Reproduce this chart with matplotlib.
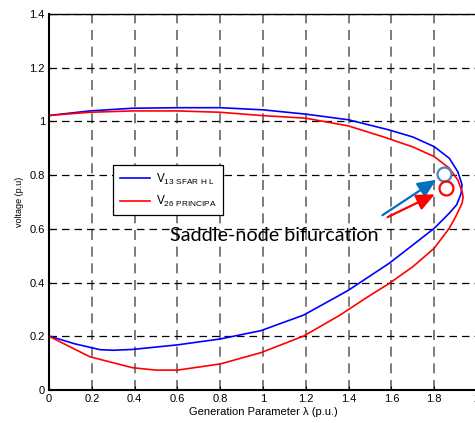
import matplotlib
matplotlib.use('Agg')
import matplotlib.pyplot as plt
from matplotlib.ticker import FormatStrFormatter
import numpy as np

plt.rcParams['font.family'] = ['Liberation Sans', 'DejaVu Sans']
plt.rcParams['mathtext.fontset'] = 'custom'
plt.rcParams['mathtext.rm'] = 'Liberation Sans'

# PV curve of bus 13 (generation parameter vs voltage), traced along the nose
lam_v13 = [0.0, 0.19, 0.39, 0.60, 0.80, 1.00, 1.20, 1.40, 1.59, 1.70, 1.80, 1.87, 1.91,
           1.93, 1.925, 1.905, 1.87, 1.80, 1.70, 1.59, 1.40, 1.36, 1.19, 0.99, 0.80,
           0.60, 0.39, 0.30, 0.24, 0.12, 0.0]
v13 = [1.022, 1.039, 1.049, 1.051, 1.051, 1.043, 1.027, 1.006, 0.968, 0.942, 0.906, 0.863, 0.813,
       0.764, 0.730, 0.690, 0.658, 0.602, 0.540, 0.472, 0.372, 0.354, 0.279, 0.221, 0.190,
       0.168, 0.151, 0.148, 0.150, 0.172, 0.201]

# PV curve of bus 26
lam_v26 = [0.0, 0.19, 0.39, 0.60, 0.80, 0.99, 1.20, 1.40, 1.56, 1.70, 1.80, 1.87, 1.91,
           1.93, 1.935, 1.93, 1.90, 1.87, 1.80, 1.70, 1.59, 1.48, 1.36, 1.19, 0.99,
           0.80, 0.60, 0.50, 0.39, 0.19, 0.0]
v26 = [1.022, 1.034, 1.039, 1.039, 1.034, 1.022, 1.012, 0.983, 0.943, 0.905, 0.869, 0.826, 0.782,
       0.739, 0.718, 0.695, 0.645, 0.602, 0.528, 0.459, 0.397, 0.342, 0.279, 0.201, 0.139,
       0.097, 0.074, 0.074, 0.083, 0.124, 0.200]

# saddle-node points and arrow tails
snb_v13 = (1.846, 0.804)
snb_v26 = (1.855, 0.753)
arrow_v13 = ((1.547, 0.645), (1.819, 0.788))
arrow_v26 = ((1.570, 0.639), (1.814, 0.733))

xticks = np.arange(0, 2.01, 0.2)
yticks = np.arange(0, 1.41, 0.2)

fig = plt.figure(figsize=(4.75, 4.23), dpi=100)
ax = fig.add_axes([0.1032, 0.078, 0.9011, 0.889])

ax.plot(lam_v13, v13, color='#0000ff', lw=1.2, label=r'V$_{\mathrm{13\ SFAR\ H\ L}}$')
ax.plot(lam_v26, v26, color='#ff0000', lw=1.2, label=r'V$_{\mathrm{26\ PRINCIPA}}$')

ax.set_xlim(0, 2)
ax.set_ylim(0, 1.4)
ax.set_xticks(xticks)
ax.set_yticks(yticks)
ax.xaxis.set_major_formatter(FormatStrFormatter('%g'))
ax.yaxis.set_major_formatter(FormatStrFormatter('%g'))
ax.tick_params(direction='in', length=3, labelsize=8, pad=3)

ax.grid(axis='x', color='0.4', ls=(0, (6, 4)), lw=1.2)
ax.grid(axis='y', color='k', ls=(0, (6, 4)), lw=0.9)

for s in ['left', 'bottom']:
    ax.spines[s].set_linewidth(1.5)
ax.spines['top'].set_linewidth(1.0)

ax.set_xlabel(u'Generation Parameter \u03bb (p.u.)', fontsize=8, labelpad=2)
ax.set_ylabel('voltage (p.u)', fontsize=6.5, labelpad=4)

leg = ax.legend(loc='upper left', bbox_to_anchor=(0.1495, 0.598), borderaxespad=0,
                fancybox=False, edgecolor='k', framealpha=1, fontsize=8.5,
                handlelength=2.6, borderpad=0.55, labelspacing=0.6, handletextpad=0.5)
leg.get_frame().set_linewidth(0.9)

# arrows pointing at the bifurcation points
ax.annotate('', xy=arrow_v13[1], xytext=arrow_v13[0],
            arrowprops=dict(arrowstyle='-|>,head_length=1.1,head_width=0.5',
                            color='#0070c0', lw=1.6))
ax.annotate('', xy=arrow_v26[1], xytext=arrow_v26[0],
            arrowprops=dict(arrowstyle='-|>,head_length=1.1,head_width=0.5',
                            color='#ff0000', lw=1.6))
ax.plot(*snb_v13, 'o', ms=10, mfc='white', mec='#4f81bd', mew=1.6)
ax.plot(*snb_v26, 'o', ms=10, mfc='white', mec='#ff0000', mew=1.6)

ax.text(0.565, 0.574, 'Saddle-node bifurcation', fontsize=14.2, family='Lato',
        va='center', ha='left')

fig.savefig('out.png', dpi=100)
